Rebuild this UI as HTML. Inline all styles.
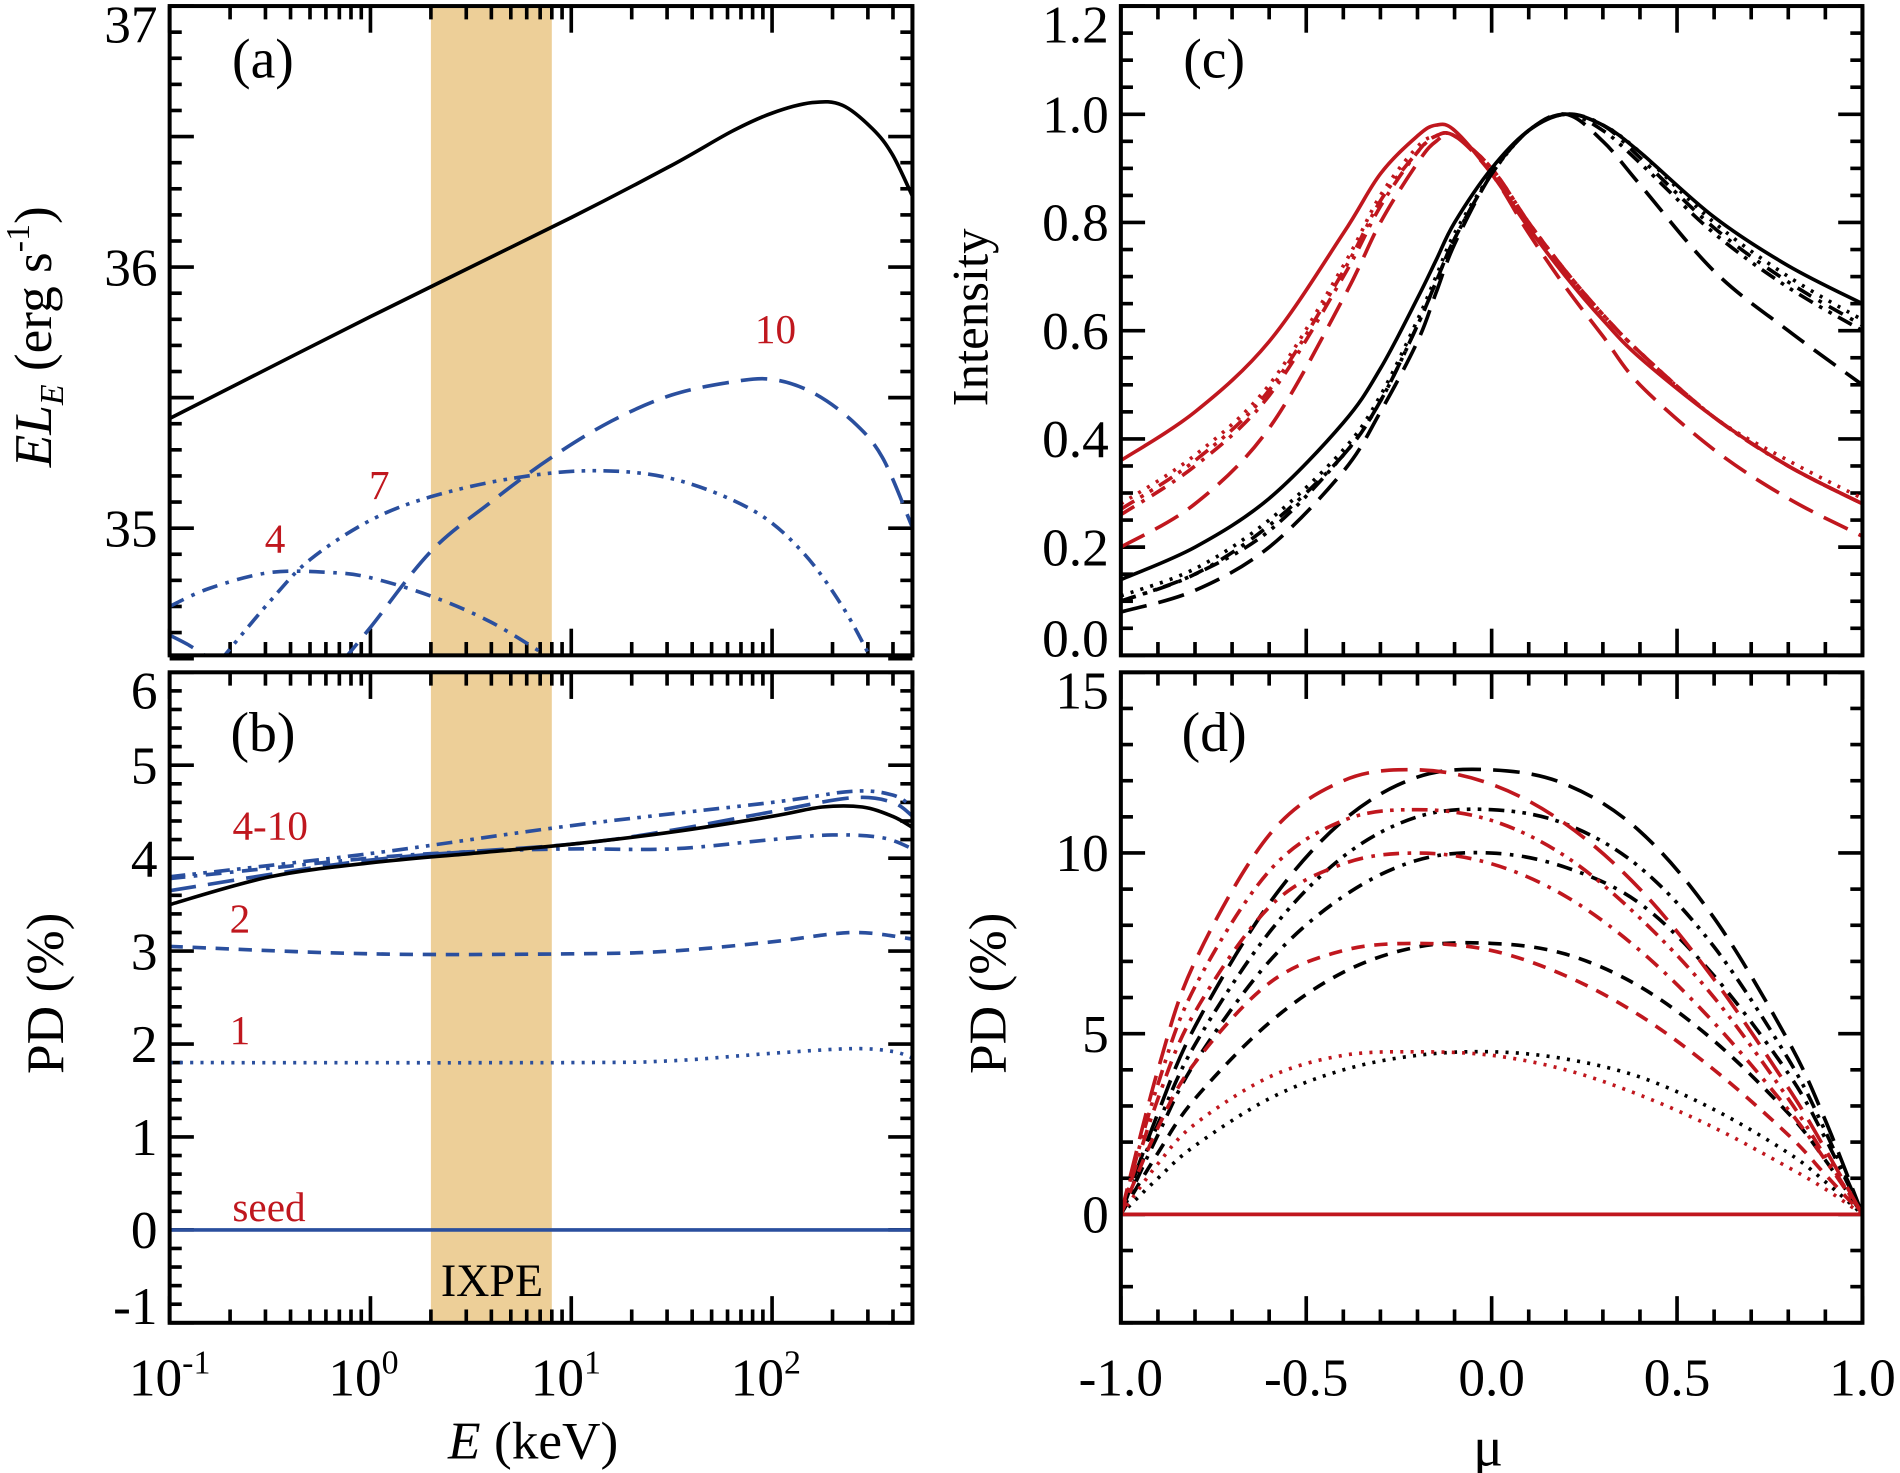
<!DOCTYPE html>
<html><head><meta charset="utf-8"><style>
html,body{margin:0;padding:0;background:#fff;}
svg{display:block;font-family:"Liberation Serif",serif;}
</style></head><body>
<svg id="fig" width="1900" height="1473" viewBox="0 0 1568 1216" preserveAspectRatio="none" xmlns="http://www.w3.org/2000/svg"></svg>
<script>
// ---------- data ----------
// Panel (a): log10(E) vs log10(EL_E)
const aTotalX=[-1,0,1,1.5,1.8,2.0,2.2,2.35,2.5,2.6,2.7];
const aTotalY=[35.42,35.81,36.19,36.39,36.52,36.59,36.63,36.62,36.53,36.43,36.27];
const a10X=[-0.15,0,0.3,0.6,0.9,1.2,1.5,1.8,2.0,2.2,2.4,2.55,2.7];
const a10Y=[34.48,34.62,34.91,35.1,35.27,35.41,35.51,35.56,35.57,35.52,35.41,35.27,35.0];
const a7X=[-0.75,-0.5,-0.3,0,0.3,0.7,1.1,1.5,1.9,2.15,2.35,2.5];
const a7Y=[34.49,34.72,34.88,35.03,35.12,35.19,35.22,35.19,35.07,34.91,34.7,34.49];
const a4X=[-1,-0.8,-0.5,-0.2,0,0.3,0.6,0.9];
const a4Y=[34.7,34.77,34.83,34.83,34.81,34.74,34.64,34.5];
const aSeedX=[-1,-0.9,-0.8];
const aSeedY=[34.59,34.55,34.5];
// Panel (b): PD vs log10(E)
const bTotalX=[-1,-0.5,0,0.5,1,1.5,2,2.25,2.45,2.6,2.7];
const bTotalY=[3.5,3.8,3.95,4.05,4.15,4.28,4.45,4.55,4.55,4.45,4.33];
const b10X=[-1,0,1,1.5,2,2.4,2.6,2.7];
const b10Y=[3.65,3.98,4.15,4.3,4.5,4.65,4.6,4.45];
const b7X=[-1,0,1,2,2.4,2.6,2.7];
const b7Y=[3.8,4.05,4.35,4.6,4.72,4.68,4.55];
const b4X=[-1,0,0.5,1,1.5,2,2.3,2.55,2.7];
const b4Y=[3.78,4.0,4.07,4.1,4.1,4.2,4.25,4.22,4.1];
const b2X=[-1,0,1,1.5,2,2.4,2.7];
const b2Y=[3.05,2.97,2.97,3.0,3.1,3.2,3.13];
const b1X=[-1,1,1.5,2,2.4,2.6,2.7];
const b1Y=[1.8,1.8,1.82,1.9,1.95,1.92,1.85];
const bSeedX=[-1,2.7];
const bSeedY=[0,0];
// Panel (c): intensity vs mu
const cMu=[-1,-0.8,-0.6,-0.4,-0.3,-0.2,-0.15,-0.1,0,0.1,0.2,0.3,0.4,0.6,0.8,1];
const cRedSolid=[0.36,0.45,0.58,0.78,0.89,0.96,0.98,0.97,0.89,0.79,0.70,0.62,0.55,0.44,0.35,0.28];
const cRedDot=[0.28,0.37,0.5,0.72,0.85,0.94,0.96,0.96,0.9,0.8,0.71,0.63,0.56,0.44,0.36,0.29];
const cRedDashDot=[0.26,0.35,0.48,0.70,0.83,0.93,0.96,0.96,0.9,0.8,0.71,0.63,0.56,0.44,0.35,0.28];
const cRedDDD=[0.27,0.36,0.49,0.71,0.84,0.93,0.96,0.96,0.9,0.8,0.71,0.63,0.56,0.44,0.35,0.28];
const cRedLong=[0.2,0.28,0.42,0.66,0.8,0.91,0.95,0.96,0.89,0.78,0.68,0.59,0.5,0.38,0.29,0.22];
const cBlkSolid=[0.14,0.2,0.29,0.43,0.53,0.66,0.73,0.8,0.9,0.97,1.0,0.98,0.93,0.81,0.72,0.65];
const cBlkDot=[0.11,0.16,0.25,0.38,0.48,0.62,0.7,0.78,0.89,0.97,1.0,0.98,0.93,0.8,0.7,0.62];
const cBlkDashDot=[0.1,0.15,0.24,0.37,0.47,0.61,0.69,0.77,0.89,0.97,1.0,0.98,0.92,0.79,0.69,0.61];
const cBlkDDD=[0.1,0.15,0.23,0.37,0.47,0.61,0.69,0.77,0.89,0.97,1.0,0.97,0.91,0.78,0.68,0.6];
const cBlkLong=[0.08,0.12,0.2,0.34,0.45,0.58,0.67,0.76,0.89,0.97,1.0,0.95,0.87,0.71,0.6,0.5];
// Panel (d): PD vs mu
const dMu=[-1,-0.9,-0.8,-0.6,-0.4,-0.2,0,0.2,0.4,0.6,0.8,0.9,1];
const dRedLong=[0,4,7,10.5,12,12.3,11.9,10.8,9,6.5,3.5,1.8,0];
const dRedDDD=[0,3.6,6.3,9.5,10.9,11.2,10.9,9.9,8.2,6,3.2,1.6,0];
const dRedDashDot=[0,3.2,5.6,8.5,9.7,10,9.7,8.8,7.3,5.3,2.9,1.5,0];
const dRedShort=[0,2.4,4.2,6.4,7.3,7.5,7.3,6.6,5.5,4,2.2,1.1,0];
const dRedDot=[0,1.4,2.5,3.8,4.4,4.5,4.4,4,3.3,2.4,1.3,0.7,0];
const dRedSolid=[0,0,0,0,0,0,0,0,0,0,0,0,0];
const dBlkLong=[0,2.8,5.2,8.6,10.9,12.1,12.3,11.9,10.6,8.2,4.8,2.6,0];
const dBlkDDD=[0,2.5,4.7,7.8,9.9,11,11.2,10.8,9.6,7.4,4.3,2.3,0];
const dBlkDashDot=[0,2.2,4.2,7,8.8,9.8,10,9.6,8.6,6.6,3.9,2.1,0];
const dBlkShort=[0,1.7,3.2,5.3,6.7,7.4,7.5,7.2,6.3,4.8,2.8,1.5,0];
const dBlkDot=[0,1,1.9,3.2,4,4.4,4.5,4.3,3.8,2.9,1.7,0.9,0];

// ---------- drawing ----------
const svg=document.getElementById('fig');
const NS='http://www.w3.org/2000/svg';
function mk(tag,attrs,parent){const e=document.createElementNS(NS,tag);for(const k in attrs)e.setAttribute(k,attrs[k]);(parent||svg).appendChild(e);return e;}
function lin(d0,d1,p0,p1){return v=>p0+(v-d0)*(p1-p0)/(d1-d0);}
const BLUE='#2a4f9e',RED='#c0171e',BLK='#000';
const DASH={solid:'',long:'22,10',short:'11,8',dot:'2.5,6',dashdot:'13,7,3,7',ddd:'13,6,3,6,3,6'};

const L1=140,R1=753,L2=925,R2=1537,T1=5,B1=541,T2=555,B2=1092;
const xE=lin(-1,Math.log10(500),L1,R1);
const yA=lin(35,37,436,5);
const yB=lin(-1,6,B2,T2);
const xMu=lin(-1,1,L2,R2);
const yC=lin(0,1.2,B1,T1);
const yD=lin(-3,15,B2,T2);

function catmull(pts){
  let d='M'+pts[0][0].toFixed(1)+','+pts[0][1].toFixed(1);
  for(let i=0;i<pts.length-1;i++){
    const p0=pts[i-1]||pts[i],p1=pts[i],p2=pts[i+1],p3=pts[i+2]||pts[i+1];
    const c1=[p1[0]+(p2[0]-p0[0])/6,p1[1]+(p2[1]-p0[1])/6];
    const c2=[p2[0]-(p3[0]-p1[0])/6,p2[1]-(p3[1]-p1[1])/6];
    d+=' C'+c1[0].toFixed(1)+','+c1[1].toFixed(1)+' '+c2[0].toFixed(1)+','+c2[1].toFixed(1)+' '+p2[0].toFixed(1)+','+p2[1].toFixed(1);
  }
  return d;
}
function series(xs,ys,fx,fy,color,dash,name,clip){
  const pts=xs.map((x,i)=>[fx(x),fy(ys[i])]);
  const p=mk('path',{d:catmull(pts),fill:'none',stroke:color,'stroke-width':3,'stroke-dasharray':DASH[dash],'clip-path':'url(#'+clip+')'});
  
  
  return p;
}
const defs=mk('defs',{});
[['ca',L1,T1,R1,B1],['cb',L1,T2,R1,B2],['cc',L2,T1,R2,B1],['cd',L2,T2,R2,B2]].forEach(c=>{
  const cp=mk('clipPath',{id:c[0]},defs);mk('rect',{x:c[1],y:c[2],width:c[3]-c[1],height:c[4]-c[2]},cp);
});

[[T1,B1,'ixpe-band-a'],[T2,B2,'ixpe-band-b']].forEach(b=>{
  const r=mk('rect',{x:xE(Math.log10(2)),y:b[0],width:xE(Math.log10(8))-xE(Math.log10(2)),height:b[1]-b[0],fill:'#edcf98'});
  
});

function txt(x,y,s,size,opts){const t=mk('text',Object.assign({x:x,y:y,'font-size':size,'text-anchor':'middle',fill:'#000'},opts||{}));t.textContent=s;return t;}

function ticksY(L,R,f,min,max,maj,minStep,labels,fmt,T,B){
  const g=mk('g',{stroke:'#000','stroke-width':3});
  
  const n=Math.round((max-min)/minStep);
  for(let i=0;i<=n;i++){const v=min+i*minStep;const y=f(v);
    const isMaj=Math.abs(v/maj-Math.round(v/maj))<1e-6;const len=isMaj?20:10;
    mk('line',{x1:L,x2:L+len,y1:y,y2:y},g);mk('line',{x1:R,x2:R-len,y1:y,y2:y},g);}
  labels.forEach(v=>{let y=f(v);
    if(Math.abs(y-T)<3)y+=15; else if(Math.abs(y-B)<3)y-=14;
    const t=txt(L-10,y+15,fmt(v),44,{'text-anchor':'end'});
    });
}
function ticksXlog(T,B){
  const g=mk('g',{stroke:'#000','stroke-width':3});
  
  for(let dec=-1;dec<=2;dec++)for(let m=1;m<=9;m++){const v=m*Math.pow(10,dec);if(v>500)continue;
    const x=xE(Math.log10(v));const len=m===1?22:11;
    mk('line',{x1:x,x2:x,y1:B,y2:B-len},g);mk('line',{x1:x,x2:x,y1:T,y2:T+len},g);}
}
function ticksXlin(T,B){
  const g=mk('g',{stroke:'#000','stroke-width':3});
  
  for(let i=0;i<=20;i++){const v=-1+i*0.1;const x=xMu(v);const len=(i%5===0)?22:11;
    mk('line',{x1:x,x2:x,y1:B,y2:B-len},g);mk('line',{x1:x,x2:x,y1:T,y2:T+len},g);}
}
ticksY(L1,R1,yA,34.5,37,0.5,0.1,[35,36,37],v=>String(v),T1,B1);
ticksY(L1,R1,yB,-1,6,1,0.2,[-1,0,1,2,3,4,5,6],v=>String(v),T2,B2);
ticksY(L2,R2,yC,0,1.2,0.2,0.05,[0,0.2,0.4,0.6,0.8,1.0,1.2],v=>v.toFixed(1),T1,B1);
ticksY(L2,R2,yD,-3,15,5,1,[0,5,10,15],v=>String(v),T2,B2);
ticksXlog(T1,B1);ticksXlog(T2,B2);ticksXlin(T1,B1);ticksXlin(T2,B2);

series(aTotalX,aTotalY,xE,yA,BLK,'solid','total-spectrum','ca');
series(a10X,a10Y,xE,yA,BLUE,'long','spectrum-10','ca');
series(a7X,a7Y,xE,yA,BLUE,'ddd','spectrum-7','ca');
series(a4X,a4Y,xE,yA,BLUE,'dashdot','spectrum-4','ca');
series(aSeedX,aSeedY,xE,yA,BLUE,'long','spectrum-low','ca');
series(bSeedX,bSeedY,xE,yB,BLUE,'solid','pd-seed','cb');
series(b1X,b1Y,xE,yB,BLUE,'dot','pd-1','cb');
series(b2X,b2Y,xE,yB,BLUE,'short','pd-2','cb');
series(b4X,b4Y,xE,yB,BLUE,'dashdot','pd-4','cb');
series(b7X,b7Y,xE,yB,BLUE,'ddd','pd-7','cb');
series(b10X,b10Y,xE,yB,BLUE,'long','pd-10','cb');
series(bTotalX,bTotalY,xE,yB,BLK,'solid','pd-total','cb');
series(cMu,cRedSolid,xMu,yC,RED,'solid','intensity-red-solid','cc');
series(cMu,cRedDot,xMu,yC,RED,'dot','intensity-red-dot','cc');
series(cMu,cRedDashDot,xMu,yC,RED,'dashdot','intensity-red-dashdot','cc');
series(cMu,cRedDDD,xMu,yC,RED,'ddd','intensity-red-ddd','cc');
series(cMu,cRedLong,xMu,yC,RED,'long','intensity-red-long','cc');
series(cMu,cBlkSolid,xMu,yC,BLK,'solid','intensity-black-solid','cc');
series(cMu,cBlkDot,xMu,yC,BLK,'dot','intensity-black-dot','cc');
series(cMu,cBlkDashDot,xMu,yC,BLK,'dashdot','intensity-black-dashdot','cc');
series(cMu,cBlkDDD,xMu,yC,BLK,'ddd','intensity-black-ddd','cc');
series(cMu,cBlkLong,xMu,yC,BLK,'long','intensity-black-long','cc');
series(dMu,dBlkLong,xMu,yD,BLK,'long','pd-mu-black-long','cd');
series(dMu,dBlkDDD,xMu,yD,BLK,'ddd','pd-mu-black-ddd','cd');
series(dMu,dBlkDashDot,xMu,yD,BLK,'dashdot','pd-mu-black-dashdot','cd');
series(dMu,dBlkShort,xMu,yD,BLK,'short','pd-mu-black-short','cd');
series(dMu,dBlkDot,xMu,yD,BLK,'dot','pd-mu-black-dot','cd');
series(dMu,dRedLong,xMu,yD,RED,'long','pd-mu-red-long','cd');
series(dMu,dRedDDD,xMu,yD,RED,'ddd','pd-mu-red-ddd','cd');
series(dMu,dRedDashDot,xMu,yD,RED,'dashdot','pd-mu-red-dashdot','cd');
series(dMu,dRedShort,xMu,yD,RED,'short','pd-mu-red-short','cd');
series(dMu,dRedDot,xMu,yD,RED,'dot','pd-mu-red-dot','cd');
series(dMu,dRedSolid,xMu,yD,RED,'solid','pd-mu-red-solid','cd');

[[L1,T1,R1,B1,'frame-a'],[L1,T2,R1,B2,'frame-b'],[L2,T1,R2,B1,'frame-c'],[L2,T2,R2,B2,'frame-d']].forEach(f=>{
  const r=mk('rect',{x:f[0],y:f[1],width:f[2]-f[0],height:f[3]-f[1],fill:'none',stroke:'#000','stroke-width':3.3});
  
});
</script>
<script>
(function(){
const svg=document.getElementById('fig');const NS='http://www.w3.org/2000/svg';
function t(x,y,s,size,color,name,extra){const e=document.createElementNS(NS,'text');
  e.setAttribute('x',x);e.setAttribute('y',y);e.setAttribute('font-size',size);e.setAttribute('fill',color||'#000');
  e.setAttribute('text-anchor','middle');if(extra)for(const k in extra)e.setAttribute(k,extra[k]);
  e.innerHTML=s;
  
  
  svg.appendChild(e);return e;}
const RED='#c0171e';
t(217,64,'(a)',46,'#000','panel-label-a');
t(217,620,'(b)',46,'#000','panel-label-b');
t(1002,64,'(c)',46,'#000','panel-label-c');
t(1002,620,'(d)',46,'#000','panel-label-d');
t(640,283,'10',34,RED,'label-10');
t(313,412,'7',34,RED,'label-7');
t(227,456,'4',34,RED,'label-4');
t(223,693,'4-10',34,RED,'label-4-10');
t(198,770,'2',34,RED,'label-2');
t(198,862,'1',34,RED,'label-1');
t(222,1008,'seed',34,RED,'label-seed');
t(406,1070,'IXPE',38,'#000','ixpe-label');
[[-1,140],[0,300],[1,467],[2,632]].forEach(p=>{
  t(p[1],1152,'10<tspan dy="-18" font-size="28">'+p[0]+'</tspan>',44,'#000','x-tick-label');
});
[[-1,'-1.0'],[-0.5,'-0.5'],[0,'0.0'],[0.5,'0.5'],[1,'1.0']].forEach(p=>{
  t(925+(p[0]+1)*306,1152,p[1],44,'#000','x-tick-label');
});
t(440,1204,'<tspan font-style="italic">E</tspan> (keV)',44,'#000','x-axis-title-energy');
t(1228,1210,'μ',46,'#000','x-axis-title-mu');
t(42,278,'<tspan font-style="italic">EL<tspan font-size="28" dy="10">E</tspan></tspan><tspan dy="-10"> (erg s</tspan><tspan dy="-18" font-size="28">-1</tspan><tspan dy="18">)</tspan>',44,'#000','y-axis-title-a',{transform:'rotate(-90 42 278)'});
t(52,820,'PD (%)',44,'#000','y-axis-title-b',{transform:'rotate(-90 52 820)'});
t(815,262,'Intensity',42,'#000','y-axis-title-c',{transform:'rotate(-90 815 262)'});
t(830,820,'PD (%)',44,'#000','y-axis-title-d',{transform:'rotate(-90 830 820)'});
})();
</script>
</body></html>
